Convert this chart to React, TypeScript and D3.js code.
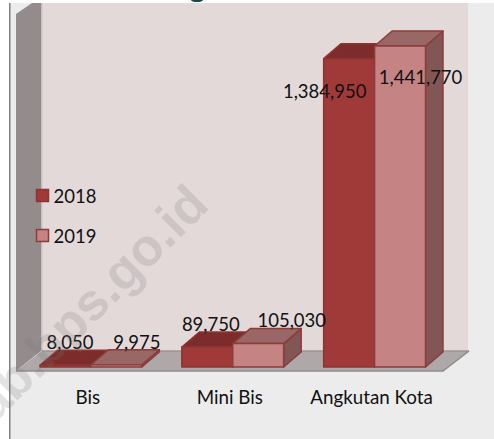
import React from "react";
import * as d3 from "d3";

const categories = ["Bis", "Mini Bis", "Angkutan Kota"];
const seriesNames = ["2018", "2019"];
const values2018 = [8050, 89750, 1384950];
const values2019 = [9975, 105030, 1441770];
const seriesValues = [values2018, values2019];

const W = 494;
const H = 439;
const font = "Lato, 'Open Sans', sans-serif";

// colours per series: front, top, side
const front = ["#a03a38", "#c58383"];
const topFace = ["#7c2c2a", "#996766"];
const sideFace = ["#6e2a28", "#825654"];
const edge = ["#8e3432", "#8c3c3a"];

// hand placement of data labels, same order as the values
const labelDx = [
  [30, 46],
  [29, 59],
  [1, 46],
];
const labelBaseline = [
  [349, 349],
  [331, 327],
  [98, 84],
];

const baseY = 367;
const depthX = 17.5;
const depthY = 15;

const x0 = d3.scaleBand<string>().domain(categories).range([40, 425.5]).paddingInner(0.282);
const x1 = d3.scaleBand<string>().domain(seriesNames).range([0, x0.bandwidth()]);
const y = d3.scaleLinear().domain([0, 1441770]).range([baseY, 46]);
const fmt = d3.format(",");
const poly = (pts: [number, number][]) => d3.line()(pts) + "Z";

export default function App() {
  return (
    <svg
      width={W}
      height={H}
      style={{ position: "absolute", left: 0, top: 0, display: "block" }}
      fontFamily={font}
    >
      <rect width={W} height={H} fill="#ffffff" />
      <rect x={9} y={3} width={W - 9} height={H - 3} fill="#ececec" />
      <rect x={9} y={3} width={1.5} height={H - 3} fill="#7f7f7f" />

      {/* what is left of the cropped title */}
      <ellipse cx={197} cy={0} rx={6} ry={2} fill="#17494d" />

      {/* walls and floor */}
      <rect x={42} y={3} width={426} height={348} fill="#e4d9d9" />
      <path d={poly([[16, 14], [32, 3], [41, 3], [41, 351], [16, 371]])} fill="#948c8c" />
      <rect x={41} y={3} width={1.5} height={348} fill="#c9bfbf" />
      <path d={poly([[42, 351], [469, 351], [443, 371], [16, 371]])} fill="#aea8a8" />
      <path d="M42,351H469" stroke="#9a9494" strokeWidth={1.5} fill="none" />
      <path d="M16,371H443L469,351" stroke="#8f8b8b" strokeWidth={1.5} fill="none" />

      {/* bars */}
      {categories.map((cat, c) => (
        <g key={cat}>
          {seriesNames.map((s, i) => {
            const left = (x0(cat) as number) + (x1(s) as number);
            const right = left + x1.bandwidth();
            const top = y(seriesValues[i][c]);
            return (
              <g key={s} stroke={edge[i]} strokeWidth={1.5} strokeLinejoin="round">
                <path d={poly([[right, top], [right + depthX, top - depthY], [right + depthX, baseY - depthY], [right, baseY]])} fill={sideFace[i]} />
                <path d={poly([[left, top], [left + depthX, top - depthY], [right + depthX, top - depthY], [right, top]])} fill={topFace[i]} />
                <rect x={left} y={top} width={x1.bandwidth()} height={baseY - top} fill={front[i]} />
              </g>
            );
          })}
        </g>
      ))}

      {/* data labels */}
      {categories.map((cat, c) =>
        seriesNames.map((s, i) => (
          <text
            key={cat + s}
            x={(x0(cat) as number) + (x1(s) as number) + labelDx[c][i]}
            y={labelBaseline[c][i]}
            textAnchor="middle"
            fontSize={18.5}
            fill="#111"
          >
            {fmt(seriesValues[i][c])}
          </text>
        ))
      )}

      {/* category labels */}
      {categories.map((cat) => (
        <text
          key={cat}
          x={(x0(cat) as number) + x0.bandwidth() / 2 - 3}
          y={404}
          textAnchor="middle"
          fontSize={18.8}
          fill="#111"
        >
          {cat}
        </text>
      ))}

      {/* legend */}
      {seriesNames.map((s, i) => (
        <g key={s} transform={`translate(36.5,${189.5 + i * 40})`}>
          <rect width={12} height={12} fill={front[i]} stroke={edge[i]} strokeWidth={1.5} />
          <text x={17} y={13} fontSize={18.5} fill="#111">{s}</text>
        </g>
      ))}

      {/* watermark */}
      <text
        transform="translate(211,207) rotate(-45)"
        textAnchor="end"
        fontSize={52}
        fontWeight={700}
        fontFamily="'Liberation Sans', sans-serif"
        fill="#777"
        opacity={0.2}
      >
        ab.bps.go.id
      </text>
    </svg>
  );
}
